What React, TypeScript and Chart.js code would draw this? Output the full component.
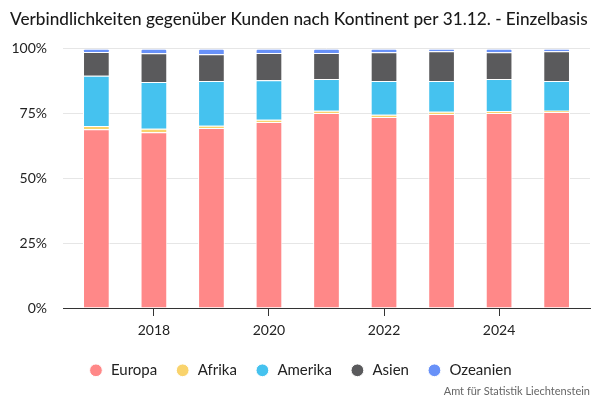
import React, { useEffect, useRef } from "react";
import { Chart, registerables } from "chart.js";

Chart.register(...registerables);

const years = [2017, 2018, 2019, 2020, 2021, 2022, 2023, 2024, 2025];
const tickYears = [2018, 2020, 2022, 2024];
const europa = [68.9, 67.8, 69.4, 71.7, 75.2, 73.6, 74.8, 75.2, 75.6];
const afrika = [1.3, 1.3, 0.9, 0.9, 0.9, 0.9, 0.9, 0.7, 0.5];
const amerika = [19.3, 18.0, 17.2, 15.2, 12.2, 13.0, 11.8, 12.4, 11.4];
const asien = [9.2, 11.1, 10.3, 10.5, 10.0, 11.1, 11.5, 10.3, 11.5];
const ozeanien = [1.3, 1.8, 2.2, 1.7, 1.7, 1.4, 1.0, 1.4, 1.0];

const seriesNames = ["Europa", "Afrika", "Amerika", "Asien", "Ozeanien"];
const seriesValues = [europa, afrika, amerika, asien, ozeanien];
const seriesColors = ["#ff8888", "#f9d36c", "#45c2ef", "#5a5a5c", "#6891f8"];

const FONT = "Lato";

export default function App() {
  const ref = useRef<HTMLCanvasElement | null>(null);
  useEffect(() => {
    document.body.style.margin = "0";
    const ctx = ref.current!;
    const chart = new Chart(ctx, {
      type: "bar",
      data: {
        datasets: seriesNames.map((name, si) => ({
          label: name,
          data: years.map((y, i) => ({ x: y, y: seriesValues[si][i] })),
          backgroundColor: seriesColors[si],
          borderColor: "#ffffff",
          borderWidth: 1,
          borderSkipped: "start",
          borderRadius: si === 4 ? { topLeft: 2, topRight: 2 } : 0,
          categoryPercentage: 0.8,
          barPercentage: 0.58,
        })),
      },
      options: {
        animation: false,
        responsive: true,
        maintainAspectRatio: false,
        layout: { padding: { left: 10, right: 10, top: 5, bottom: 2 } },
        plugins: {
          title: {
            display: true,
            text: "Verbindlichkeiten gegenüber Kunden nach Kontinent per 31.12. - Einzelbasis",
            align: "start",
            color: "#1a1a1a",
            font: { family: FONT, size: 17.2, weight: "500" },
            padding: { top: 4, bottom: 19 },
          },
          subtitle: {
            display: true,
            position: "bottom",
            align: "end",
            text: "Amt für Statistik Liechtenstein",
            color: "#666666",
            font: { family: FONT, size: 11 },
            padding: { top: -3, bottom: 0 },
          },
          legend: {
            position: "bottom",
            labels: {
              usePointStyle: true,
              pointStyle: "circle",
              boxWidth: 15,
              boxHeight: 9,
              padding: 18,
              color: "#222222",
              font: { family: FONT, size: 15 },
            },
          },
          tooltip: { enabled: false },
        },
        scales: {
          x: {
            type: "linear",
            stacked: true,
            min: 2016.42,
            max: 2025.58,
            offset: false,
            afterBuildTicks: (scale: any) => {
              scale.ticks = tickYears.map((v) => ({ value: v }));
            },
            ticks: {
              color: "#222222",
              font: { family: FONT, size: 14 },
              padding: 6,
              callback: (v: any) => String(v),
            },
            grid: {
              display: true,
              offset: false,
              drawOnChartArea: false,
              drawTicks: true,
              tickLength: 8,
              tickColor: "#333333",
            },
            border: { display: true, color: "#333333", width: 1 },
          },
          y: {
            stacked: true,
            min: 0,
            max: 100,
            afterFit: (scale: any) => {
              scale.width = 53;
            },
            ticks: {
              stepSize: 25,
              color: "#222222",
              font: { family: FONT, size: 14 },
              padding: 16,
              callback: (v: any) => v + "%",
            },
            grid: { color: "#e6e6e6", drawTicks: false },
            border: { display: false },
          },
        },
      },
    });
    return () => chart.destroy();
  }, []);
  return (
    <div style={{ width: 600, height: 400, position: "relative" }}>
      <canvas ref={ref} />
    </div>
  );
}
